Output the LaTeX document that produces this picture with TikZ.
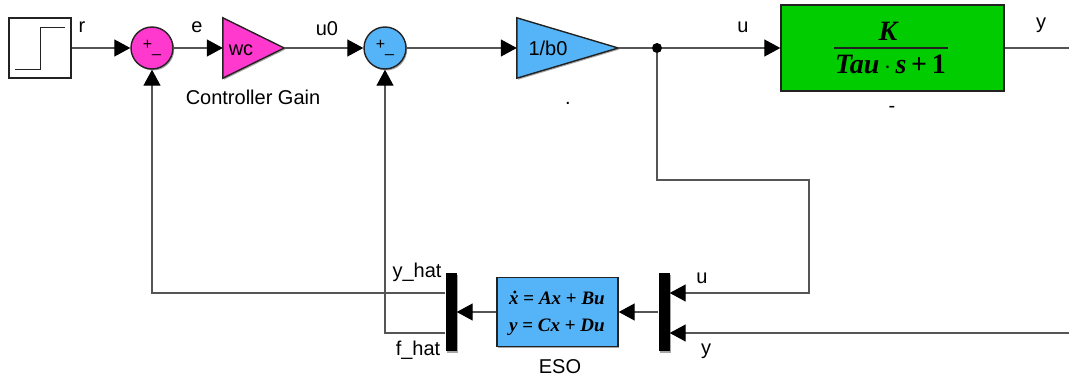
\documentclass[tikz,border=0pt]{standalone}
\usepackage{fontspec}
\setmainfont{Liberation Sans}
\newfontfamily\tim{Liberation Serif}
\usetikzlibrary{arrows.meta,shadows}
\definecolor{pinkblk}{HTML}{FF38CE}
\definecolor{blueblk}{HTML}{55B4F8}
\definecolor{greenblk}{HTML}{00CC00}
\definecolor{wire}{HTML}{555555}
\definecolor{edgeblk}{HTML}{222222}
\tikzset{
  shade blk/.style={drop shadow={shadow xshift=1.2pt,shadow yshift=-1.5pt,opacity=.35,fill=black}},
  block/.style={draw=edgeblk,line width=1.4pt,inner sep=0pt,shade blk},
  ghost/.style={inner sep=0pt,minimum width=#1,minimum height=60pt},
  tri/.style={draw=edgeblk,line width=1.4pt,line join=miter,shade blk},
  sumblk/.style={block,circle,minimum size=42pt,font=\fontsize{16}{16}\selectfont},
  bar/.style={fill=black,inner sep=0pt,minimum width=11pt,minimum height=78pt,shade blk},
  dot/.style={circle,fill=black,inner sep=0pt,minimum size=10pt},
  lab/.style={font=\fontsize{20}{20}\selectfont,inner sep=0pt},
  mathlab/.style={font=\tim\itshape\bfseries\fontsize{#1}{#1}\selectfont,inner sep=0pt,align=center},
  conn/.style={draw=wire,line width=1.3pt},
  arr/.style={conn,-{Triangle[length=16pt,width=17pt,fill=black,color=black]}},
}
\newcommand{\plusminus}{+\raisebox{-3pt}{\_}}
\begin{document}
\begin{tikzpicture}[x=1pt,y=-1pt]
\useasboundingbox (0,0) rectangle (1069,377);

% blocks
\node[block,fill=white,minimum width=62pt,minimum height=60pt] (step) at (40,48) {};
\draw[draw=edgeblk,line width=1pt] (15,70) -- (40,70) -- (40,28) -- (65,28);
\node[sumblk,fill=pinkblk] (sumA) at (152,48) {\plusminus};
\node[ghost=61pt] (gain) at (253.5,48) {};
\path[tri,fill=pinkblk] (gain.north west) -- (gain.east) -- (gain.south west) -- cycle;
\node[lab] (gaintext) at (241,50) {wc};
\node[sumblk,fill=blueblk] (sumB) at (385,48) {\plusminus};
\node[ghost=101pt] (inv) at (567.5,48) {};
\path[tri,fill=blueblk] (inv.north west) -- (inv.east) -- (inv.south west) -- cycle;
\node[lab] (invtext) at (548,48) {1/b0};
\node[dot] (jn) at (657,48) {};
\node[block,fill=greenblk,minimum width=223pt,minimum height=86pt] (plant) at (892.5,48) {};
\node[mathlab=28] (plantnum) at (888,31) {K};
\node[mathlab=28] (plantden) at (890.5,64.5) {Tau\,{\upshape$\cdot$}\,s\,{\upshape+}\,{\upshape 1}};
\node[bar] (demux) at (451,312) {};
\node[block,fill=blueblk,minimum width=121pt,minimum height=69pt] (eso) at (557.5,312) {};
\node[mathlab=19] (esotop) at (557,298) {\.x {\upshape=} Ax {\upshape+} Bu};
\node[mathlab=19] (esobot) at (557,327) {y {\upshape=} Cx {\upshape+} Du};
\node[bar] (mux) at (664,312) {};

% free ends and bends
\coordinate (outy) at (1069,48);
\coordinate (iny) at (1069,333);
\coordinate (ua) at (657,180);
\coordinate (ub) at (809,180);
\coordinate (uc) at (809,293);
\coordinate (fa) at (152,293);
\coordinate (fb) at (385,333);

% connectors
\draw[arr] (step.east) -- (sumA.west);
\draw[arr] (sumA.east) -- (gain.west);
\draw[arr] (gain.east) -- (sumB.west);
\draw[arr] (sumB.east) -- (inv.west);
\draw[conn] (inv.east) -- (jn);
\draw[arr] (jn) -- (plant.west);
\draw[conn] (plant.east) -- (outy);
\draw[arr] (jn) -- (ua) -- (ub) -- (uc) -- (mux.east |- uc);
\draw[arr] (iny) -- (mux.east |- iny);
\draw[arr] (mux.west) -- (eso.east);
\draw[arr] (eso.west) -- (demux.east);
\draw[arr] (demux.west |- fa) -- (fa) -- (sumA.south);
\draw[arr] (demux.west |- fb) -- (fb) -- (sumB.south);
\draw[line width=2pt,edgeblk] (834,48) -- (948,48);

% labels
\node[lab] (lr) at (82,27) {r};
\node[lab] (le) at (197,27) {e};
\node[lab] (luo) at (327,29) {u0};
\node[lab] (lgain) at (253,97) {Controller Gain};
\node[lab] (ldot) at (568,103) {.};
\node[lab] (lu) at (743,27) {u};
\node[lab] (ly) at (1041,25) {y};
\node[lab] (ldash) at (892,109) {-};
\node[lab] (lmu) at (702,278) {u};
\node[lab] (lmy) at (706,351) {y};
\node[lab] (lyhat) at (417,272) {y\_hat};
\node[lab] (lfhat) at (418,350) {f\_hat};
\node[lab] (leso) at (560,367) {ESO};
\end{tikzpicture}
\end{document}
